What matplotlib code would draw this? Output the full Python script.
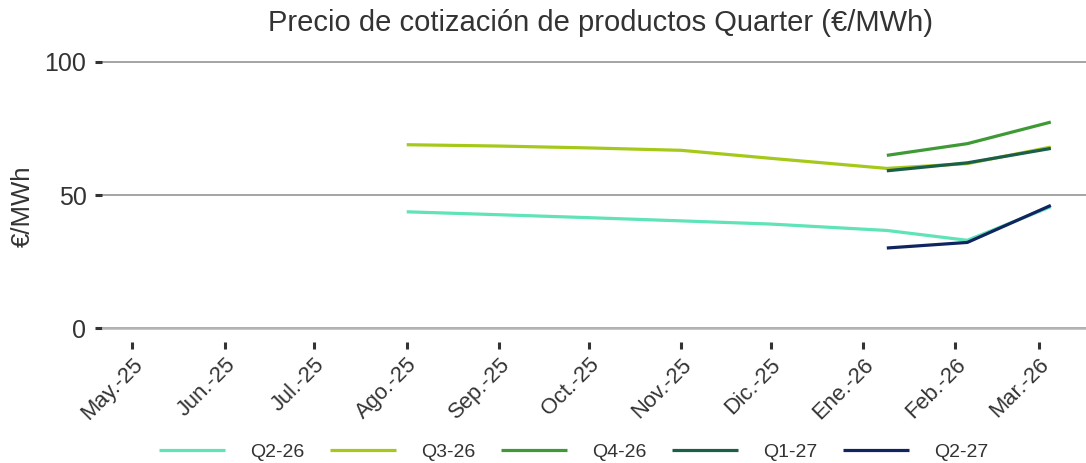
import matplotlib
matplotlib.use("Agg")
import matplotlib.pyplot as plt
import matplotlib.dates as mdates
import numpy as np
import datetime as dt

plt.rcParams['font.family'] = ['Liberation Sans', 'DejaVu Sans']

dates = [dt.date(2025, 8, 1), dt.date(2025, 9, 1), dt.date(2025, 10, 1), dt.date(2025, 11, 1),
         dt.date(2025, 12, 1), dt.date(2026, 1, 9), dt.date(2026, 2, 5), dt.date(2026, 3, 5)]
nan = np.nan
q2_26 = [43.7, 42.6, 41.5, 40.3, 39.1, 36.7, 33.0, 45.6]
q3_26 = [68.9, 68.4, 67.7, 66.8, 63.8, 60.0, 61.8, 68.0]
q4_26 = [nan, nan, nan, nan, nan, 64.9, 69.3, 77.4]
q1_27 = [nan, nan, nan, nan, nan, 59.1, 62.1, 67.5]
q2_27 = [nan, nan, nan, nan, nan, 30.1, 32.2, 46.1]

series = [("Q2-26", q2_26, "#5fe3b8"),
          ("Q3-26", q3_26, "#a5c91a"),
          ("Q4-26", q4_26, "#3f9a36"),
          ("Q1-27", q1_27, "#1b5e49"),
          ("Q2-27", q2_27, "#10255f")]

tick_dates = [dt.date(2025, m, 1) for m in range(5, 13)] + [dt.date(2026, m, 1) for m in range(1, 4)]
tick_labels = ["May.-25", "Jun.-25", "Jul.-25", "Ago.-25", "Sep.-25", "Oct.-25",
               "Nov.-25", "Dic.-25", "Ene.-26", "Feb.-26", "Mar.-26"]

W, H = 1086, 463
fig = plt.figure(figsize=(W / 100, H / 100), dpi=100)
# axes: left 102 px, right 1086 px, top 51 px, bottom 342 px
ax = fig.add_axes([102 / W, 1 - 342 / H, (1086 - 102) / W, (342 - 51) / H])

for name, vals, col in series:
    ax.plot(dates, vals, color=col, lw=2.3, label=name, solid_capstyle='butt')

x0 = mdates.date2num(dt.date(2025, 5, 1)) - 10.2
x1 = mdates.date2num(dt.date(2026, 3, 1)) + 15.8
ax.set_xlim(x0, x1)
ax.set_ylim(-5.2, 104.1)
ax.set_yticks([0, 50, 100])
ax.set_xticks([mdates.date2num(d) for d in tick_dates])
ax.set_xticklabels(tick_labels, rotation=45, ha='right', rotation_mode='anchor')

ax.grid(axis='y', color='#8c8c8c', lw=1.1)
ax.axhline(0, color='#b4b4b4', lw=1.8, zorder=0.6)
ax.set_axisbelow(True)
for s in ax.spines.values():
    s.set_visible(False)

ax.tick_params(axis='y', length=5.2, width=2.2, color='#333333', labelsize=18, labelcolor='#333333', pad=6)
ax.tick_params(axis='x', length=5.2, width=2.2, color='#333333', labelsize=15.8, labelcolor='#333333', pad=3.5)

fig.text(22.5 / W, 1 - 206 / H, "€/MWh", rotation=90, ha='center', va='center',
         fontsize=18.5, color='#333333')
fig.text(601 / W, 1 - 31 / H, "Precio de cotización de productos Quarter (€/MWh)",
         ha='center', va='baseline', fontsize=21, color='#333333')

leg = fig.legend(loc='center', bbox_to_anchor=(573.5 / W, 1 - 452 / H), ncol=5, frameon=False,
                 fontsize=14, handlelength=3.4, columnspacing=1.3, handletextpad=1.3,
                 borderpad=0, borderaxespad=0)
for t in leg.get_texts():
    t.set_color('#333333')

fig.savefig("out.png", dpi=100)
